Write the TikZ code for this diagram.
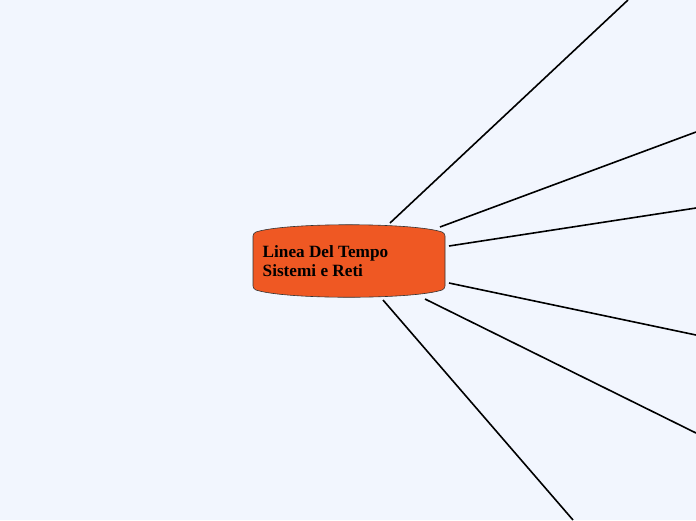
\documentclass[tikz,border=0pt]{standalone}
\usepackage{fontspec}
\setmainfont{Liberation Serif}
\definecolor{bgblue}{HTML}{F2F6FE}
\definecolor{topicorange}{HTML}{EF5823}
\tikzset{
  branch/.style={line width=1.6pt, black},
  topicshape/.style={fill=topicorange, draw=black!80, line width=0.6pt, rounded corners=3pt},
  topictext/.style={align=left, anchor=north west, inner sep=0pt, font=\fontsize{17.2}{19.3}\selectfont\bfseries, text=black}
}
\begin{document}
\begin{tikzpicture}[x=1pt,y=-1pt]
\fill[bgblue] (0,0) rectangle (696,520);
\useasboundingbox (0,0) rectangle (696,520);
% central topic shape
\draw[topicshape] (253,233) .. controls (285,222.3) and (413,222.3) .. (445,233)
  -- (445,289) .. controls (413,299.7) and (285,299.7) .. (253,289) -- cycle;
\node[topictext] (topic) at (262.5,245) {Linea Del Tempo\\Sistemi e Reti};
% connector anchors
\coordinate (s1) at (390,223);
\coordinate (s2) at (440,227);
\coordinate (s3) at (449,246);
\coordinate (s4) at (449,283);
\coordinate (s5) at (425,299);
\coordinate (s6) at (383,300);
\coordinate (e1) at (628,0);
\coordinate (e2) at (696,132);
\coordinate (e3) at (696,208);
\coordinate (e4) at (696,335);
\coordinate (e5) at (696,433);
\coordinate (e6) at (573,520);
\begin{scope}
\clip (0,0) rectangle (696,520);
\draw[branch] (s1) -- (e1);
\draw[branch] (s2) -- (e2);
\draw[branch] (s3) -- (e3);
\draw[branch] (s4) -- (e4);
\draw[branch] (s5) -- (e5);
\draw[branch] (s6) -- (e6);
\end{scope}
\end{tikzpicture}
\end{document}
